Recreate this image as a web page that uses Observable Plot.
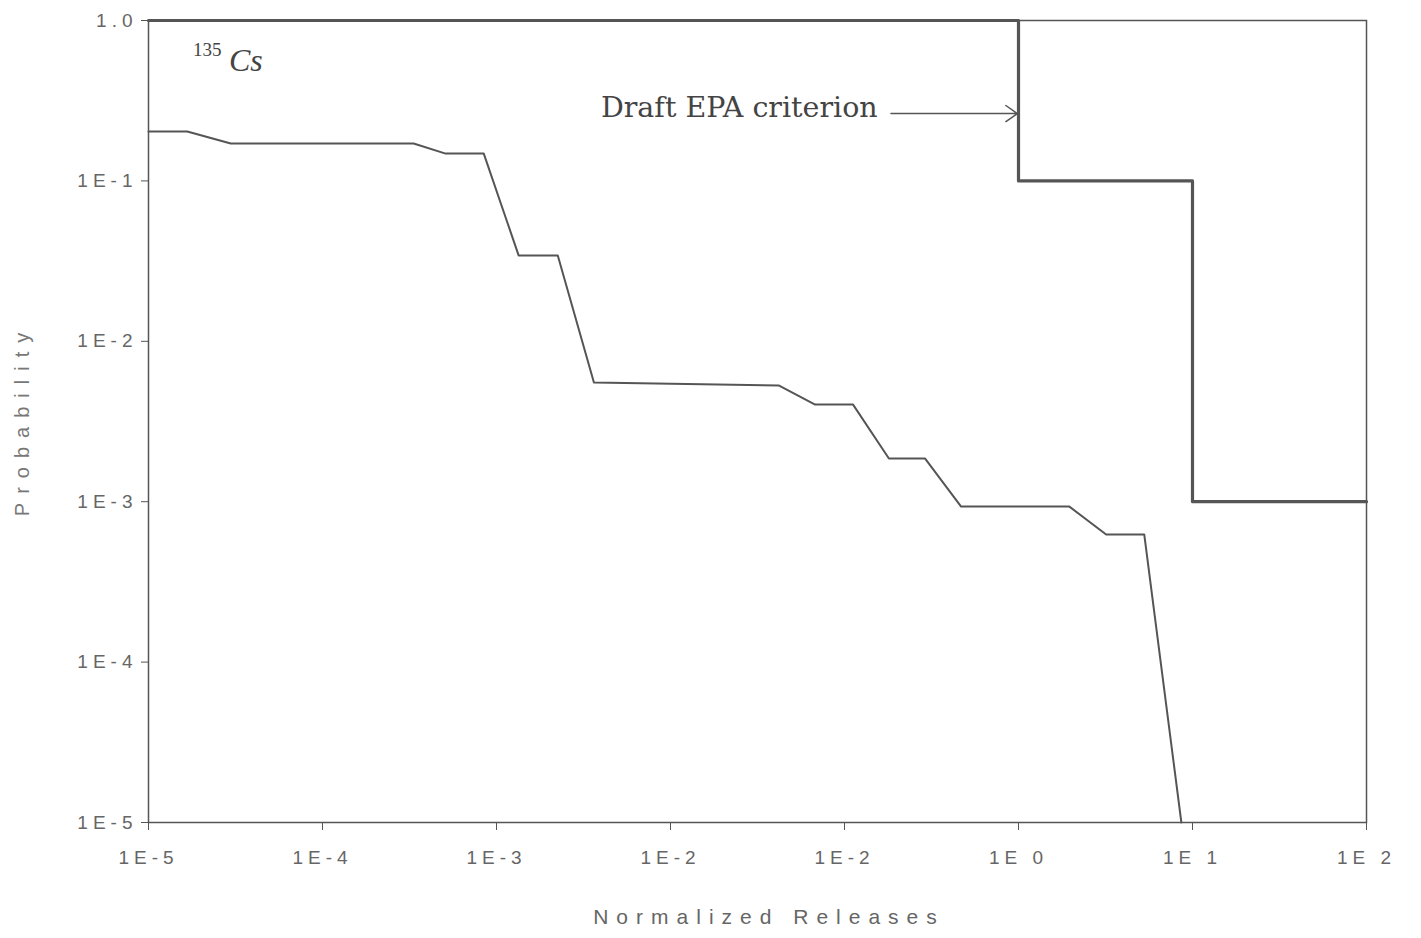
<!DOCTYPE html>
<html>
<head>
<meta charset="utf-8">
<script src="https://cdn.jsdelivr.net/npm/d3@7"></script>
<script src="https://cdn.jsdelivr.net/npm/@observablehq/plot@0.6"></script>
<style>
  html, body { margin: 0; padding: 0; background: #fff; }
  #chart svg { display: block; }
  #chart svg [aria-label="x-axis tick label"] text { letter-spacing: 5px; }
  #chart svg [aria-label="y-axis tick label"] text { letter-spacing: 5px; }
</style>
</head>
<body>
<div id="chart"></div>
<script>
// Cs-135 calculated release curve (Normalized Releases vs Probability)
const releaseX = [1e-5, 1.67e-5, 2.97e-5, 3.34e-4, 5.10e-4, 8.45e-4, 1.34e-3, 2.25e-3, 3.63e-3, 4.21e-2, 6.78e-2, 0.112, 0.180, 0.290, 0.468, 1.96, 3.19, 5.28, 8.63];
const releaseY = [0.203, 0.203, 0.171, 0.171, 0.148, 0.148, 0.0343, 0.0343, 5.54e-3, 5.30e-3, 4.03e-3, 4.03e-3, 1.86e-3, 1.86e-3, 9.32e-4, 9.32e-4, 6.25e-4, 6.25e-4, 1e-5];

// Draft EPA criterion step line
const epaX = [1e-5, 1, 1, 10, 10, 100];
const epaY = [1, 1, 0.1, 0.1, 1e-3, 1e-3];

// Axis ticks and labels (as printed)
const xTicks = [1e-5, 1e-4, 1e-3, 1e-2, 1e-1, 1, 10, 100];
const xTickLabels = ["1E-5", "1E-4", "1E-3", "1E-2", "1E-2", "1E 0", "1E 1", "1E 2"];
const yTicks = [1e-5, 1e-4, 1e-3, 1e-2, 1e-1, 1];
const yTickLabels = ["1E-5", "1E-4", "1E-3", "1E-2", "1E-1", "1.0"];

const xLabel = "Normalized Releases";
const yLabel = "Probability";

// annotations
const criterionText = "Draft EPA criterion";
const criterionPos = {x: 3.98e-3, y: 0.285};
const arrowFrom = {x: 0.185, y: 0.263};
const arrowTo = {x: 0.985, y: 0.263};
const isoMass = "135";
const isoElem = "Cs";
const isoMassPos = {x: 1.80e-5, y: 0.66};
const isoElemPos = {x: 2.90e-5, y: 0.56};

const release = releaseX.map((x, i) => ({x, y: releaseY[i]}));
const epa = epaX.map((x, i) => ({x, y: epaY[i]}));
const xLabelMap = new Map(xTicks.map((t, i) => [t, xTickLabels[i]]));
const yLabelMap = new Map(yTicks.map((t, i) => [t, yTickLabels[i]]));

const ink = "#555";

const chart = Plot.plot({
  width: 1421,
  height: 938,
  marginLeft: 148,
  marginRight: 55,
  marginTop: 20,
  marginBottom: 116,
  style: {fontFamily: "Liberation Sans, Arial, sans-serif", fontSize: "19px", color: ink, background: "#fff"},
  x: {type: "log", domain: [1e-5, 100]},
  y: {type: "log", domain: [1e-5, 1]},
  marks: [
    Plot.frame({stroke: ink, strokeWidth: 1.5}),
    Plot.axisX({
      ticks: xTicks, tickFormat: d => xLabelMap.get(d), tickSize: 8, tickPadding: 20,
      stroke: ink, fill: "#666", fontSize: 19, label: null
    }),
    Plot.axisY({
      ticks: yTicks, tickFormat: d => yLabelMap.get(d), tickSize: 7, tickPadding: 4,
      stroke: ink, fill: "#666", fontSize: 19, label: null
    }),
    Plot.line(epa, {x: "x", y: "y", stroke: ink, strokeWidth: 3.2, curve: "linear"}),
    Plot.line(release, {x: "x", y: "y", stroke: ink, strokeWidth: 2, curve: "linear"}),
    Plot.arrow([{x1: arrowFrom.x, y1: arrowFrom.y, x2: arrowTo.x, y2: arrowTo.y}], {
      x1: "x1", y1: "y1", x2: "x2", y2: "y2", stroke: ink, strokeWidth: 1.5, headLength: 14, headAngle: 70
    }),
    Plot.text([criterionText], {
      x: [criterionPos.x], y: [criterionPos.y], text: d => d, textAnchor: "start",
      fontFamily: "DejaVu Serif, Liberation Serif, serif", fontSize: 28.5, fill: "#444"
    }),
    Plot.text([isoMass], {
      x: [isoMassPos.x], y: [isoMassPos.y], text: d => d, textAnchor: "start",
      fontFamily: "Liberation Serif, serif", fontSize: 19, fill: "#444"
    }),
    Plot.text([isoElem], {
      x: [isoElemPos.x], y: [isoElemPos.y], text: d => d, textAnchor: "start",
      fontFamily: "Liberation Serif, serif", fontStyle: "italic", fontSize: 32, fill: "#444"
    })
  ]
});

// Axis titles drawn as text inside the svg, positioned from the plot's scales
const sx = chart.scale("x"), sy = chart.scale("y");
const svg = d3.select(chart);
const midX = (sx.range[0] + sx.range[1]) / 2;
const midY = (sy.range[0] + sy.range[1]) / 2;
svg.append("text")
  .attr("x", midX + 12).attr("y", sy.range[0] + 102)
  .attr("text-anchor", "middle")
  .attr("fill", "#666")
  .style("font-size", "21px").style("letter-spacing", "8px")
  .text(xLabel);
svg.append("text")
  .attr("transform", `translate(29,${midY - 1})rotate(-90)`)
  .attr("text-anchor", "middle")
  .attr("fill", "#777")
  .style("font-size", "20px").style("letter-spacing", "9px")
  .text(yLabel);

document.getElementById("chart").appendChild(chart);
</script>
</body>
</html>
